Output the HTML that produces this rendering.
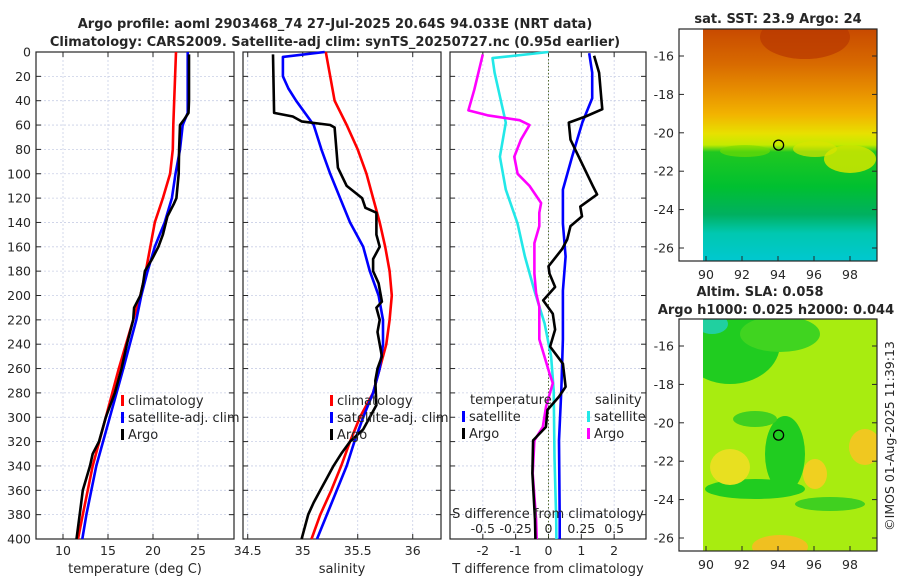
<!DOCTYPE html>
<html><head><meta charset="utf-8"><style>
body{margin:0;background:#fff;}
svg{display:block;font-family:"DejaVu Sans","Liberation Sans",sans-serif;}
text{fill:#262626;}
</style></head><body>
<svg id="fig" width="900" height="580" viewBox="0 0 900 580" xmlns="http://www.w3.org/2000/svg">
<defs>
<linearGradient id="sstGrad" x1="0" y1="0" x2="0" y2="1">
<stop offset="0" stop-color="#c84a00"/><stop offset="0.15" stop-color="#d86a00"/>
<stop offset="0.27" stop-color="#e89000"/><stop offset="0.37" stop-color="#f2b400"/>
<stop offset="0.45" stop-color="#e8e000"/><stop offset="0.5" stop-color="#c4ea00"/>
<stop offset="0.53" stop-color="#20c820"/><stop offset="0.68" stop-color="#00c030"/>
<stop offset="0.8" stop-color="#00b060"/><stop offset="0.88" stop-color="#00c8b0"/>
<stop offset="1" stop-color="#00c8d0"/></linearGradient>
<clipPath id="clipTop"><rect x="703" y="29" width="174" height="232"/></clipPath>
<clipPath id="clipBot"><rect x="703" y="319" width="174" height="232"/></clipPath>
</defs>
<g font-weight="bold" font-size="13" text-anchor="middle">
<text x="335" y="28">Argo profile: aoml 2903468_74 27-Jul-2025 20.64S 94.033E (NRT data)</text>
<text x="335" y="46">Climatology: CARS2009. Satellite-adj clim: synTS_20250727.nc (0.95d earlier)</text>
</g>
<g id="panels"></g>
<g id="maps"></g>
</svg>
<script>
// ---------- data ----------
const depthTicks=[0,20,40,60,80,100,120,140,160,180,200,220,240,260,280,300,320,340,360,380,400];
const tempTicks=[10,15,20,25];
const salTicks=[34.5,35,35.5,36];
const dTTicks=[-2,-1,0,1,2];
const dSTicks=[-0.5,-0.25,0,0.25,0.5];
const dSTickLabels=["-0.5","-0.25","0","0.25","0.5"];

const tClimDepth=[0,20,40,60,80,100,120,140,160,180,200,220,260,300,340,380,400];
const tClimValue=[22.56,22.45,22.35,22.25,22.2,21.9,21.1,20.2,19.7,19.2,18.6,17.8,16.2,14.75,13.3,12.2,11.67];
const tSatDepth=[0,20,40,50,60,80,100,120,140,160,180,200,220,260,300,340,380,400];
const tSatValue=[23.85,23.85,23.85,23.85,23.3,23.0,22.5,22.1,21.3,20.2,19.4,18.7,18.15,16.7,15.2,13.7,12.6,12.15];
const tArgoDepth=[2,20,40,50,55,60,80,100,120,125,135,150,160,170,180,190,200,210,220,240,260,280,300,320,330,340,360,380,400];
const tArgoValue=[24,24,24,23.95,23.5,23.0,22.9,22.85,22.6,22.3,21.6,21.1,20.6,19.9,19.1,18.9,18.6,17.9,17.8,17.1,16.5,15.75,14.75,14.0,13.3,13.0,12.2,11.85,11.5];

const sClimDepth=[0,20,40,60,80,100,120,140,160,180,200,220,240,260,280,300,320,340,360,380,400];
const sClimValue=[35.21,35.25,35.29,35.4,35.5,35.58,35.64,35.7,35.75,35.79,35.81,35.79,35.76,35.7,35.64,35.52,35.43,35.35,35.26,35.16,35.08];
const sSatDepth=[0,4,20,30,40,60,80,100,120,140,160,180,200,220,240,260,280,300,320,340,360,380,400];
const sSatValue=[35.2,34.82,34.82,34.87,34.94,35.1,35.17,35.25,35.34,35.43,35.55,35.61,35.69,35.73,35.73,35.7,35.64,35.55,35.47,35.4,35.31,35.22,35.13];
const sArgoDepth=[2,50,53,57,60,62,95,110,120,128,132,150,160,170,180,190,205,210,220,230,250,260,270,290,300,310,320,330,340,350,360,370,380,400];
const sArgoValue=[34.73,34.74,34.91,34.99,35.25,35.29,35.32,35.4,35.54,35.57,35.67,35.67,35.7,35.64,35.64,35.69,35.72,35.67,35.7,35.68,35.72,35.68,35.66,35.67,35.61,35.55,35.43,35.35,35.28,35.22,35.16,35.1,35.05,34.99];

const dTSatDepth=[1,17,38,58,86,113,141,168,196,236,278,319,384,400];
const dTSatValue=[1.24,1.33,1.33,1.03,0.72,0.44,0.44,0.52,0.44,0.44,0.39,0.32,0.34,0.34];
const dTArgoDepth=[3,17,39,47,53,58,72,86,110,117,127,135,143,154,162,176,182,193,204,215,228,242,256,275,283,294,308,319,346,384,400];
const dTArgoValue=[1.39,1.54,1.61,1.64,1.13,0.62,0.67,0.92,1.35,1.48,0.97,1.02,0.67,0.57,0.41,0,0.03,0.2,-0.16,0.13,0.2,0.05,0.44,0.52,0.32,-0.03,-0.08,-0.47,-0.49,-0.41,-0.4];
const dSSatDepth=[0,5,17,58,86,113,141,168,196,223,250,278,333,384,400];
const dSSatValue=[0,-0.426,-0.41,-0.325,-0.37,-0.325,-0.235,-0.18,-0.107,-0.03,0.02,0.04,0.046,0.059,0.06];
const dSArgoDepth=[2,31,48,52,56,60,72,86,100,110,124,132,143,157,182,198,209,236,264,272,291,308,319,346,384,400];
const dSArgoValue=[-0.5,-0.565,-0.61,-0.465,-0.22,-0.145,-0.21,-0.26,-0.235,-0.145,-0.056,-0.07,-0.07,-0.107,-0.107,-0.094,-0.07,-0.07,0.008,0.033,-0.018,-0.043,-0.107,-0.12,-0.094,-0.09];

const lonTicks=[90,92,94,96,98];
const latTicks=[-16,-18,-20,-22,-24,-26];
const argoLon=94.033, argoLat=-20.64;

// ---------- helpers ----------
const NS="http://www.w3.org/2000/svg";
function mk(tag,attrs,parent,txt){const e=document.createElementNS(NS,tag);for(const k in attrs)e.setAttribute(k,attrs[k]);if(txt!==undefined)e.textContent=txt;parent.appendChild(e);return e;}
const Y0=52,Y1=539,DMAX=400;
function yD(d){return Y0+(d/DMAX)*(Y1-Y0);}
function lin(a0,a1,p0,p1){return v=>p0+(v-a0)/(a1-a0)*(p1-p0);}

const panels=document.getElementById('panels');
const P=[
 {name:'temperature-panel',x0:36,x1:234,sc:lin(7,29,36,234),ticks:tempTicks,labels:tempTicks.map(String),xlabel:'temperature (deg C)',ylab:true},
 {name:'salinity-panel',x0:243,x1:441,sc:lin(34.457,36.257,243,441),ticks:salTicks,labels:salTicks.map(String),xlabel:'salinity',ylab:false},
 {name:'difference-panel',x0:450,x1:646,sc:lin(-3,2.97,450,646),ticks:dTTicks,labels:dTTicks.map(String),xlabel:'T difference from climatology',ylab:false}
];
function drawAxes(p){
 const g=mk('g',{},panels);
 
 
 const grid=mk('g',{stroke:'#c9cfe6','stroke-width':0.8,'stroke-dasharray':'2,2'},g);
 
 
 depthTicks.forEach(d=>{mk('line',{x1:p.x0,x2:p.x1,y1:yD(d),y2:yD(d)},grid);});
 p.ticks.forEach(v=>{mk('line',{x1:p.sc(v),x2:p.sc(v),y1:Y0,y2:Y1},grid);});
 const tk=mk('g',{stroke:'#262626','stroke-width':1},g);
 depthTicks.forEach(d=>{mk('line',{x1:p.x0,x2:p.x0+5,y1:yD(d),y2:yD(d)},tk);mk('line',{x1:p.x1-5,x2:p.x1,y1:yD(d),y2:yD(d)},tk);});
 p.ticks.forEach(v=>{mk('line',{x1:p.sc(v),x2:p.sc(v),y1:Y1,y2:Y1-5},tk);mk('line',{x1:p.sc(v),x2:p.sc(v),y1:Y0,y2:Y0+5},tk);});
 const xl=mk('g',{'font-size':12.5,'text-anchor':'middle'},g);
 
 
 p.ticks.forEach((v,i)=>{mk('text',{x:p.sc(v),y:555},xl,p.labels[i]);});
 const xt=mk('text',{x:(p.x0+p.x1)/2,y:573,'font-size':13,'text-anchor':'middle'},g,p.xlabel);
 
 
 if(p.ylab){const yl=mk('g',{'font-size':12.5,'text-anchor':'end'},g);
  
  
  depthTicks.forEach(d=>{mk('text',{x:31,y:yD(d)+4.5},yl,String(d));});}
 mk('rect',{x:p.x0,y:Y0,width:p.x1-p.x0,height:Y1-Y0,fill:'none',stroke:'#262626','stroke-width':1.2},g);
 return g;
}
function series(g,depths,vals,sc,color,name,w){
 const pts=depths.map((d,i)=>sc(vals[i]).toFixed(1)+','+yD(d).toFixed(1)).join(' ');
 const pl=mk('polyline',{points:pts,fill:'none',stroke:color,'stroke-width':w||2.6,'stroke-linejoin':'round'},g);
 
 
}
function legend(g,x,y,items,name){
 const lg=mk('g',{'font-size':13},g);
 
 
 items.forEach((it,i)=>{const yy=y+i*17;
  mk('rect',{x:x,y:yy-10,width:3,height:11,fill:it[1]},lg);
  mk('text',{x:x+7,y:yy},lg,it[0]);});
}
const g1=drawAxes(P[0]);
series(g1,tClimDepth,tClimValue,P[0].sc,'#ff0000','temp-climatology-line');
series(g1,tSatDepth,tSatValue,P[0].sc,'#0000ff','temp-satellite-line');
series(g1,tArgoDepth,tArgoValue,P[0].sc,'#000000','temp-argo-line');
legend(g1,121,405,[['climatology','#ff0000'],['satellite-adj. clim','#0000ff'],['Argo','#000000']],'temperature-legend');

const g2=drawAxes(P[1]);
series(g2,sClimDepth,sClimValue,P[1].sc,'#ff0000','sal-climatology-line');
series(g2,sSatDepth,sSatValue,P[1].sc,'#0000ff','sal-satellite-line');
series(g2,sArgoDepth,sArgoValue,P[1].sc,'#000000','sal-argo-line');
legend(g2,330,405,[['climatology','#ff0000'],['satellite-adj. clim','#0000ff'],['Argo','#000000']],'salinity-legend');

const g3=drawAxes(P[2]);
const zl=mk('line',{x1:P[2].sc(0),x2:P[2].sc(0),y1:Y0,y2:Y1,stroke:'#556b2f','stroke-width':1,'stroke-dasharray':'1.5,2'},g3);


const sS=v=>P[2].sc(v*4);
series(g3,dSSatDepth,dSSatValue,sS,'#22e8e8','sal-diff-satellite-line');
series(g3,dSArgoDepth,dSArgoValue,sS,'#ff00ff','sal-diff-argo-line');
series(g3,dTSatDepth,dTSatValue,P[2].sc,'#0000ff','temp-diff-satellite-line');
series(g3,dTArgoDepth,dTArgoValue,P[2].sc,'#000000','temp-diff-argo-line');
const lt=mk('text',{x:470,y:404,'font-size':13},g3,'temperature');


legend(g3,462,421,[['satellite','#0000ff'],['Argo','#000000']],'temp-diff-legend');
const ls=mk('text',{x:595,y:404,'font-size':13},g3,'salinity');


legend(g3,587,421,[['satellite','#22e8e8'],['Argo','#ff00ff']],'sal-diff-legend');
const sa=mk('text',{x:548,y:518,'font-size':13,'text-anchor':'middle'},g3,'S difference from climatology');


const st=mk('g',{'font-size':12.5,'text-anchor':'middle'},g3);


dSTicks.forEach((v,i)=>{mk('text',{x:sS(v),y:533},st,dSTickLabels[i]);});

// ---------- maps ----------
const maps=document.getElementById('maps');
function mapAxes(name,top,title1,title2,draw,clip){
 const g=mk('g',{},maps);
 
 
 const lonX=lin(90,98,706,850), latY=lin(-16,-26,top+27,top+219);
 const body=mk('g',{'clip-path':'url(#'+clip+')'},g);
 draw(body,top);
 const tk=mk('g',{stroke:'#262626','stroke-width':1},g);
 lonTicks.forEach(v=>{mk('line',{x1:lonX(v),x2:lonX(v),y1:top+232,y2:top+227},tk);});
 latTicks.forEach(v=>{mk('line',{x1:679,x2:684,y1:latY(v),y2:latY(v)},tk);mk('line',{x1:872,x2:877,y1:latY(v),y2:latY(v)},tk);});
 const lx=mk('g',{'font-size':12.5,'text-anchor':'middle'},g);
 lonTicks.forEach(v=>{mk('text',{x:lonX(v),y:top+250},lx,String(v));});
 const ly=mk('g',{'font-size':12.5,'text-anchor':'end'},g);
 latTicks.forEach(v=>{mk('text',{x:674,y:latY(v)+4.5},ly,String(v));});
 const c=mk('circle',{cx:lonX(argoLon),cy:latY(argoLat),r:5,fill:'none',stroke:'#000','stroke-width':1.3},g);
 
 
 mk('rect',{x:679,y:top,width:198,height:232,fill:'none',stroke:'#262626','stroke-width':1.2},g);
 const t=mk('g',{'font-size':13,'font-weight':'bold','text-anchor':'middle'},g);
 
 
 if(title2){mk('text',{x:760,y:top-23},t,title1);mk('text',{x:776,y:top-5},t,title2);}
 else mk('text',{x:778,y:top-6},t,title1);
}
mapAxes('sst-map',29,'sat. SST: 23.9 Argo: 24',null,(b,top)=>{
 mk('rect',{x:703,y:top,width:174,height:232,fill:'url(#sstGrad)'},b);
 mk('ellipse',{cx:805,cy:top+8,rx:45,ry:22,fill:'#b83800',opacity:0.7},b);
 mk('ellipse',{cx:745,cy:top+122,rx:25,ry:6,fill:'#7adc00',opacity:0.6},b);
 mk('ellipse',{cx:850,cy:top+130,rx:26,ry:14,fill:'#c8e400',opacity:0.9},b);
 mk('ellipse',{cx:815,cy:top+120,rx:22,ry:8,fill:'#d8e400',opacity:0.7},b);
},'clipTop');
mapAxes('sla-map',319,'Altim. SLA: 0.058','Argo h1000: 0.025 h2000: 0.044',(b,top)=>{
 mk('rect',{x:703,y:top,width:174,height:232,fill:'#a8ec10'},b);
 mk('ellipse',{cx:730,cy:top+25,rx:50,ry:40,fill:'#20cc20'},b);
 mk('ellipse',{cx:780,cy:top+15,rx:40,ry:18,fill:'#40d420'},b);
 mk('ellipse',{cx:712,cy:top+5,rx:16,ry:10,fill:'#20d0a0'},b);
 mk('ellipse',{cx:785,cy:top+135,rx:20,ry:38,fill:'#20cc20'},b);
 mk('ellipse',{cx:755,cy:top+170,rx:50,ry:10,fill:'#20cc20'},b);
 mk('ellipse',{cx:755,cy:top+100,rx:22,ry:8,fill:'#40d020'},b);
 mk('ellipse',{cx:730,cy:top+148,rx:20,ry:18,fill:'#e8e020'},b);
 mk('ellipse',{cx:815,cy:top+155,rx:12,ry:15,fill:'#f0d020'},b);
 mk('ellipse',{cx:865,cy:top+128,rx:16,ry:18,fill:'#f0c820'},b);
 mk('ellipse',{cx:780,cy:top+228,rx:28,ry:12,fill:'#f0c020'},b);
 mk('ellipse',{cx:830,cy:top+185,rx:35,ry:7,fill:'#40d020'},b);
},'clipBot');
const cr=mk('text',{x:0,y:0,'font-size':12.5,'text-anchor':'middle',transform:'translate(894,436) rotate(-90)'},maps,'©IMOS 01-Aug-2025 11:39:13');


</script>
</body></html>
